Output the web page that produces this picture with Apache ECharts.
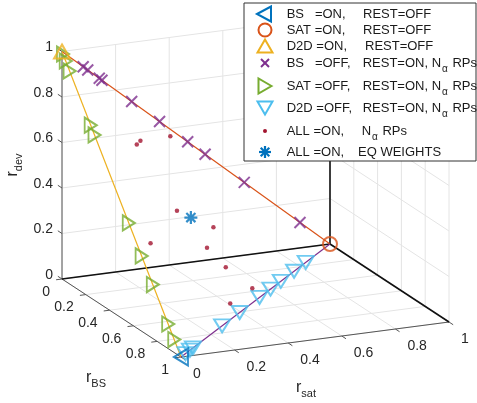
<!DOCTYPE html>
<html><head><meta charset="utf-8">
<script src="https://cdn.jsdelivr.net/npm/echarts/dist/echarts.min.js"></script>
<style>html,body{margin:0;padding:0;background:#fff}#c{width:477px;height:403px}</style>
</head><body><div id="c"></div>
<script>
// every point is [rsat, rBS, rdev]
const bsOn = [[0, 1, 0]];
const satOn = [[1, 0, 0]];
const d2dOn = [[0, 0, 1]];
const bsOff = [[0.079,0,0.921],[0.096,0,0.904],[0.139,0,0.861],[0.149,0,0.851],[0.260,0,0.740],[0.364,0,0.636],[0.469,0,0.531],[0.534,0,0.466],[0.680,0,0.320],[0.888,0,0.112]];
const satOff = [[0,0.008,0.992],[0,0.031,0.969],[0,0.064,0.936],[0,0.241,0.759],[0,0.273,0.727],[0,0.561,0.439],[0,0.669,0.331],[0,0.763,0.237],[0,0.892,0.108],[0,0.943,0.057]];
const d2dOff = [[0.03,0.97,0],[0.06,0.94,0],[0.08,0.92,0],[0.276,0.724,0],[0.394,0.606,0],[0.527,0.473,0],[0.601,0.399,0],[0.670,0.330,0],[0.759,0.241,0],[0.837,0.163,0]];
const allOn = [[0.200,0.178,0.622],[0.226,0.150,0.624],[0.390,0.032,0.578],[0.274,0.349,0.377],[0.430,0.304,0.266],[0.072,0.582,0.346],[0.355,0.419,0.226],[0.413,0.446,0.141],[0.508,0.455,0.037],[0.363,0.596,0.041]];
const eqWeights = [[0.333,0.333,0.333]];
const tickValues = [0,0.2,0.4,0.6,0.8,1];
const tickLabels = ['0','0.2','0.4','0.6','0.8','1'];
const legendCol1 = ['BS   =ON,','SAT =ON,','D2D =ON,','BS   =OFF,','SAT =OFF,','D2D =OFF,','ALL =ON,','ALL =ON,'];
const legendCol2 = ['REST=OFF','REST=OFF','REST=OFF','REST=ON, N|α|RPs','REST=ON, N|α|RPs','REST=ON, N|α|RPs','N|α|RPs','EQ WEIGHTS'];

// projection of the 3D view (layout)
const O=[62,279], ES=[268,-35], EB=[119,78], ED=[0,-227.5];
function proj(p){return [O[0]+p[0]*ES[0]+p[1]*EB[0]+p[2]*ED[0], O[1]+p[0]*ES[1]+p[1]*EB[1]+p[2]*ED[1]];}

const FONT="'Liberation Sans', Arial, Helvetica, sans-serif";
const C={blue:'#0072BD',orange:'#D95319',yellow:'#EDB120',purple:'#7E2F8E',green:'#77AC30',cyan:'#4DBEEE',red:'#A2142F'};

const gridSegs=[];
tickValues.forEach(t=>{
  gridSegs.push([[t,0,0],[t,1,0]],[[0,t,0],[1,t,0]]);
  gridSegs.push([[t,0,0],[t,0,1]],[[0,0,t],[1,0,t]]);
  gridSegs.push([[1,t,0],[1,t,1]],[[1,0,t],[1,1,t]]);
});
const axisSegs=[[[0,0,0],[0,0,1]],[[0,0,0],[0,1,0]],[[0,1,0],[1,1,0]]];
tickValues.forEach(t=>{
  axisSegs.push([[0,0,t],[0,-0.035,t]]);
  axisSegs.push([[0,t,0],[-0.022,t,0]]);
  axisSegs.push([[t,1,0],[t,1.035,0]]);
});
const blackSegs=[[[0,0,0],[1,0,0]],[[1,0,0],[1,1,0]],[[1,0,0],[1,0,1]]];

function segSeries(segs,color,width,z){
  return {type:'custom',coordinateSystem:'cartesian2d',z:z,silent:true,clip:false,
    data:segs.map(s=>proj(s[0]).concat(proj(s[1]))),
    encode:{x:[0,2],y:[1,3]},
    renderItem:(params,api)=>{
      const a=api.coord([api.value(0),api.value(1)]), b=api.coord([api.value(2),api.value(3)]);
      return {type:'line',shape:{x1:a[0],y1:a[1],x2:b[0],y2:b[1]},style:{stroke:color,lineWidth:width}};
    }};
}
function labelSeries(points,labels,dx,dy,align){
  return {type:'custom',coordinateSystem:'cartesian2d',z:5,silent:true,clip:false,
    data:points.map(proj),encode:{x:0,y:1},
    renderItem:(params,api)=>{
      const p=api.coord([api.value(0),api.value(1)]);
      return {type:'text',x:p[0]+dx,y:p[1]+dy,style:{text:labels[params.dataIndex],align:align,verticalAlign:'middle',font:'14px '+FONT,fill:'#262626'}};
    }};
}
function lineSeries(a,b,color){
  return {type:'line',data:[proj(a),proj(b)],symbol:'none',z:3,silent:true,lineStyle:{color:color,width:1.2}};
}
function scatter(pts,opt){
  return Object.assign({type:'scatter',data:pts.map(proj),z:4,silent:true},opt);
}
const xPath='path://M0,0L10,10M10,0L0,10';
const starPath='path://M0,5L10,5M5,0L5,10M1.5,1.5L8.5,8.5M8.5,1.5L1.5,8.5';

const series=[
  segSeries(gridSegs,'#e4e4e4',1,1),
  segSeries(axisSegs,'#555555',1,2),
  segSeries(blackSegs,'#111111',1.6,2),
  labelSeries(tickValues.map(t=>[0,0,t]),tickLabels,-9,-4,'right'),
  labelSeries(tickValues.map(t=>[0,t,0]),tickLabels,-12,13,'right'),
  labelSeries(tickValues.map(t=>[t,1,0]),tickLabels,12,17,'left'),
  lineSeries(d2dOn[0],satOn[0],C.orange),
  lineSeries(d2dOn[0],bsOn[0],C.yellow),
  lineSeries(bsOn[0],satOn[0],C.purple),
  scatter(bsOff,{symbol:xPath,symbolSize:11,itemStyle:{color:'rgba(0,0,0,0)',borderColor:C.purple,borderWidth:2}}),
  scatter(satOff,{symbol:'triangle',symbolRotate:-90,symbolSize:[15,12],itemStyle:{color:'rgba(0,0,0,0)',borderColor:C.green,borderWidth:2}}),
  scatter(d2dOff,{symbol:'triangle',symbolRotate:180,symbolSize:[16,13],itemStyle:{color:'rgba(0,0,0,0)',borderColor:C.cyan,borderWidth:2}}),
  scatter(allOn,{symbol:'circle',symbolSize:4.5,itemStyle:{color:C.red}}),
  scatter(eqWeights,{symbol:starPath,symbolSize:13,itemStyle:{color:'rgba(0,0,0,0)',borderColor:C.blue,borderWidth:2.2}}),
  scatter(bsOn,{symbol:'triangle',symbolRotate:90,symbolSize:[17,14],itemStyle:{color:'rgba(0,0,0,0)',borderColor:C.blue,borderWidth:2}}),
  scatter(satOn,{symbol:'circle',symbolSize:14,itemStyle:{color:'rgba(0,0,0,0)',borderColor:C.orange,borderWidth:2}}),
  scatter(d2dOn,{symbol:'triangle',symbolSize:[16,14],itemStyle:{color:'rgba(0,0,0,0)',borderColor:C.yellow,borderWidth:2}})
];

// legend (layout)
const g=[];
const LX=244, LY=3, LW=232, LH=158;
g.push({type:'rect',shape:{x:LX,y:LY,width:LW,height:LH},style:{fill:'#fff',stroke:'#333',lineWidth:1},z:100});
const rowsY=[14,30,46,63,86,108,131,152];
const col2X=[363,363,365,362.7,362.7,362.7,361.7,358];
const IX=265;
function triPts(cx,cy,w,h,dir){
  if(dir==='up')return [[cx,cy-h/2],[cx+w/2,cy+h/2],[cx-w/2,cy+h/2]];
  if(dir==='down')return [[cx,cy+h/2],[cx+w/2,cy-h/2],[cx-w/2,cy-h/2]];
  if(dir==='left')return [[cx-h/2,cy],[cx+h/2,cy-w/2],[cx+h/2,cy+w/2]];
  return [[cx+h/2,cy],[cx-h/2,cy-w/2],[cx-h/2,cy+w/2]];
}
function poly(pts,color){g.push({type:'polygon',shape:{points:pts},style:{fill:'none',stroke:color,lineWidth:2},z:101});}
function ln(x1,y1,x2,y2,color,w){g.push({type:'line',shape:{x1,y1,x2,y2},style:{stroke:color,lineWidth:w},z:101});}
poly(triPts(IX-1,rowsY[0],15,14,'left'),C.blue);
g.push({type:'circle',shape:{cx:IX,cy:rowsY[1],r:6.5},style:{fill:'none',stroke:C.orange,lineWidth:2},z:101});
poly(triPts(IX,rowsY[2],15,13,'up'),C.yellow);
ln(IX-4,rowsY[3]-4,IX+4,rowsY[3]+4,C.purple,2);ln(IX+4,rowsY[3]-4,IX-4,rowsY[3]+4,C.purple,2);
poly(triPts(IX,rowsY[4],15,13,'right'),C.green);
poly(triPts(IX,rowsY[5],15,13,'down'),C.cyan);
g.push({type:'circle',shape:{cx:IX,cy:rowsY[6],r:2},style:{fill:C.red},z:101});
(function(){const cx=IX,cy=rowsY[7],r=6,d=4.3;
  ln(cx-r,cy,cx+r,cy,C.blue,2.2);ln(cx,cy-r,cx,cy+r,C.blue,2.2);
  ln(cx-d,cy-d,cx+d,cy+d,C.blue,2.2);ln(cx+d,cy-d,cx-d,cy+d,C.blue,2.2);})();
const rich={a:{fontSize:13,fontFamily:FONT,fill:'#1a1a1a'},s:{fontSize:10,fontFamily:FONT,fill:'#1a1a1a',padding:[13,1,0,1]}};
rowsY.forEach((y,i)=>{
  g.push({type:'text',z:102,style:{x:286.7,y:y,text:legendCol1[i],font:'13px '+FONT,fill:'#1a1a1a',align:'left',verticalAlign:'middle'}});
  const parts=legendCol2[i].split('|');
  const txt=parts.length===3?('{a|'+parts[0]+'}{s|'+parts[1]+'}{a| '+parts[2]+'}'):('{a|'+parts[0]+'}');
  g.push({type:'text',z:102,style:{x:col2X[i],y:y,text:txt,rich:rich,align:'left',verticalAlign:'middle'}});
});
// axis titles
const arich={r:{fontSize:16,fontFamily:FONT,fill:'#262626'},s:{fontSize:11,fontFamily:FONT,fill:'#262626',padding:[12,0,0,0]}};
g.push({type:'text',z:10,style:{x:96,y:378,text:'{r|r}{s|BS}',rich:arich,align:'center',verticalAlign:'middle'}});
g.push({type:'text',z:10,style:{x:306,y:388,text:'{r|r}{s|sat}',rich:arich,align:'center',verticalAlign:'middle'}});
g.push({type:'text',z:10,x:13,y:165,rotation:Math.PI/2,style:{x:0,y:0,text:'{r|r}{s|dev}',rich:arich,align:'center',verticalAlign:'middle'}});

const chart=echarts.init(document.getElementById('c'),null,{renderer:'canvas'});
chart.setOption({
  animation:false,
  grid:{left:0,right:0,top:0,bottom:0},
  xAxis:{type:'value',min:0,max:477,show:false},
  yAxis:{type:'value',min:0,max:403,inverse:true,show:false},
  series:series,
  graphic:{elements:g}
});
</script></body></html>
